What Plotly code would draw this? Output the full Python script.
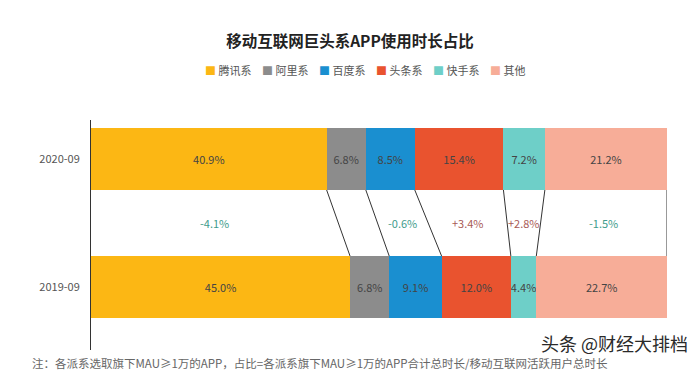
import plotly.graph_objects as go

periods = ["2019-09", "2020-09"]
groups = ["腾讯系", "阿里系", "百度系", "头条系", "快手系", "其他"]
share_2020 = [40.9, 6.8, 8.5, 15.4, 7.2, 21.2]
share_2019 = [45.0, 6.8, 9.1, 12.0, 4.4, 22.7]
colors = ["#FCB714", "#8C8C8C", "#1A8FD0", "#E9532F", "#6ECFC8", "#F7AD98"]

FONT = "Noto Sans CJK SC"
BAR_W = 0.48
L, R, T, B, W, H = 91, 33, 120, 26, 700, 376
PW, PH = W - L - R, H - T - B


def px(x):
    return (x - L) / PW


def py(y):
    return (H - B - y) / PH


fig = go.Figure()
for i, g in enumerate(groups):
    vals = [share_2019[i], share_2020[i]]
    fig.add_trace(go.Bar(
        y=periods, x=vals, name=g, orientation="h",
        marker=dict(color=colors[i], line=dict(width=0)),
        width=BAR_W,
        text=[f"{v:.1f}%" for v in vals],
        textposition="inside", insidetextanchor="middle",
        constraintext="none", textangle=0,
        textfont=dict(family=FONT, size=11, color="#444444"),
        hoverinfo="x+name", showlegend=False,
    ))

# connector lines between boundaries
c20, c19 = 0.0, 0.0
for i in range(len(groups)):
    a20, a19 = c20, c19
    c20 += share_2020[i]
    c19 += share_2019[i]
    fig.add_shape(type="line", xref="x", yref="y",
                  x0=c20, y0=1 - BAR_W / 2, x1=c19, y1=BAR_W / 2,
                  line=dict(color="#333333", width=1), layer="below")
    d = round(share_2020[i] - share_2019[i], 1)
    if abs(d) > 0.05:
        mid = (a20 + c20 + a19 + c19) / 4
        fig.add_annotation(x=mid, y=0.5, xref="x", yref="y",
                           text=f"{d:+.1f}%", showarrow=False,
                           font=dict(family=FONT, size=11,
                                     color="#3E9C8C" if d < 0 else "#A85A55"))

# custom legend
for i, g in enumerate(groups):
    fig.add_annotation(x=px(203 + i * 57), y=py(70), xref="paper", yref="paper",
                       text=f"<span style='color:{colors[i]}'>■</span> {g}",
                       showarrow=False, xanchor="left", yanchor="middle",
                       font=dict(family=FONT, size=11, color="#555555"))

fig.add_annotation(x=px(30), y=py(363), xref="paper", yref="paper",
                   text="注：各派系选取旗下MAU≥1万的APP，占比=各派系旗下MAU≥1万的APP合计总时长/移动互联网活跃用户总时长",
                   showarrow=False, xanchor="left", yanchor="middle",
                   font=dict(family=FONT, size=11.5, color="#666666"))
fig.add_annotation(x=px(690), y=py(343), xref="paper", yref="paper",
                   text="头条 @财经大排档", showarrow=False, xanchor="right", yanchor="middle",
                   font=dict(family=FONT, size=18, color="#2a2a2a"))

fig.update_layout(
    width=W, height=H,
    margin=dict(l=L, r=R, t=T, b=B),
    barmode="stack",
    plot_bgcolor="white", paper_bgcolor="white",
    title=dict(text="<b>移动互联网巨头系APP使用时长占比</b>", x=0.5, xref="container",
               xanchor="center", y=1 - 42 / H, yanchor="middle",
               font=dict(family=FONT, size=15.5, color="#222222")),
    xaxis=dict(range=[0, 100], visible=False, fixedrange=True),
    yaxis=dict(type="category", categoryorder="array", categoryarray=periods,
               range=[-0.49, 1.305], showline=True, linecolor="#333333", linewidth=1,
               showgrid=False, zeroline=False, ticks="", ticklabelstandoff=8,
               automargin=False,
               tickfont=dict(family=FONT, size=11, color="#555555")),
    showlegend=False,
)

fig.write_html("out.html", config={"displayModeBar": False},
               post_script="document.body.style.margin='0';document.body.style.overflow='hidden';")
